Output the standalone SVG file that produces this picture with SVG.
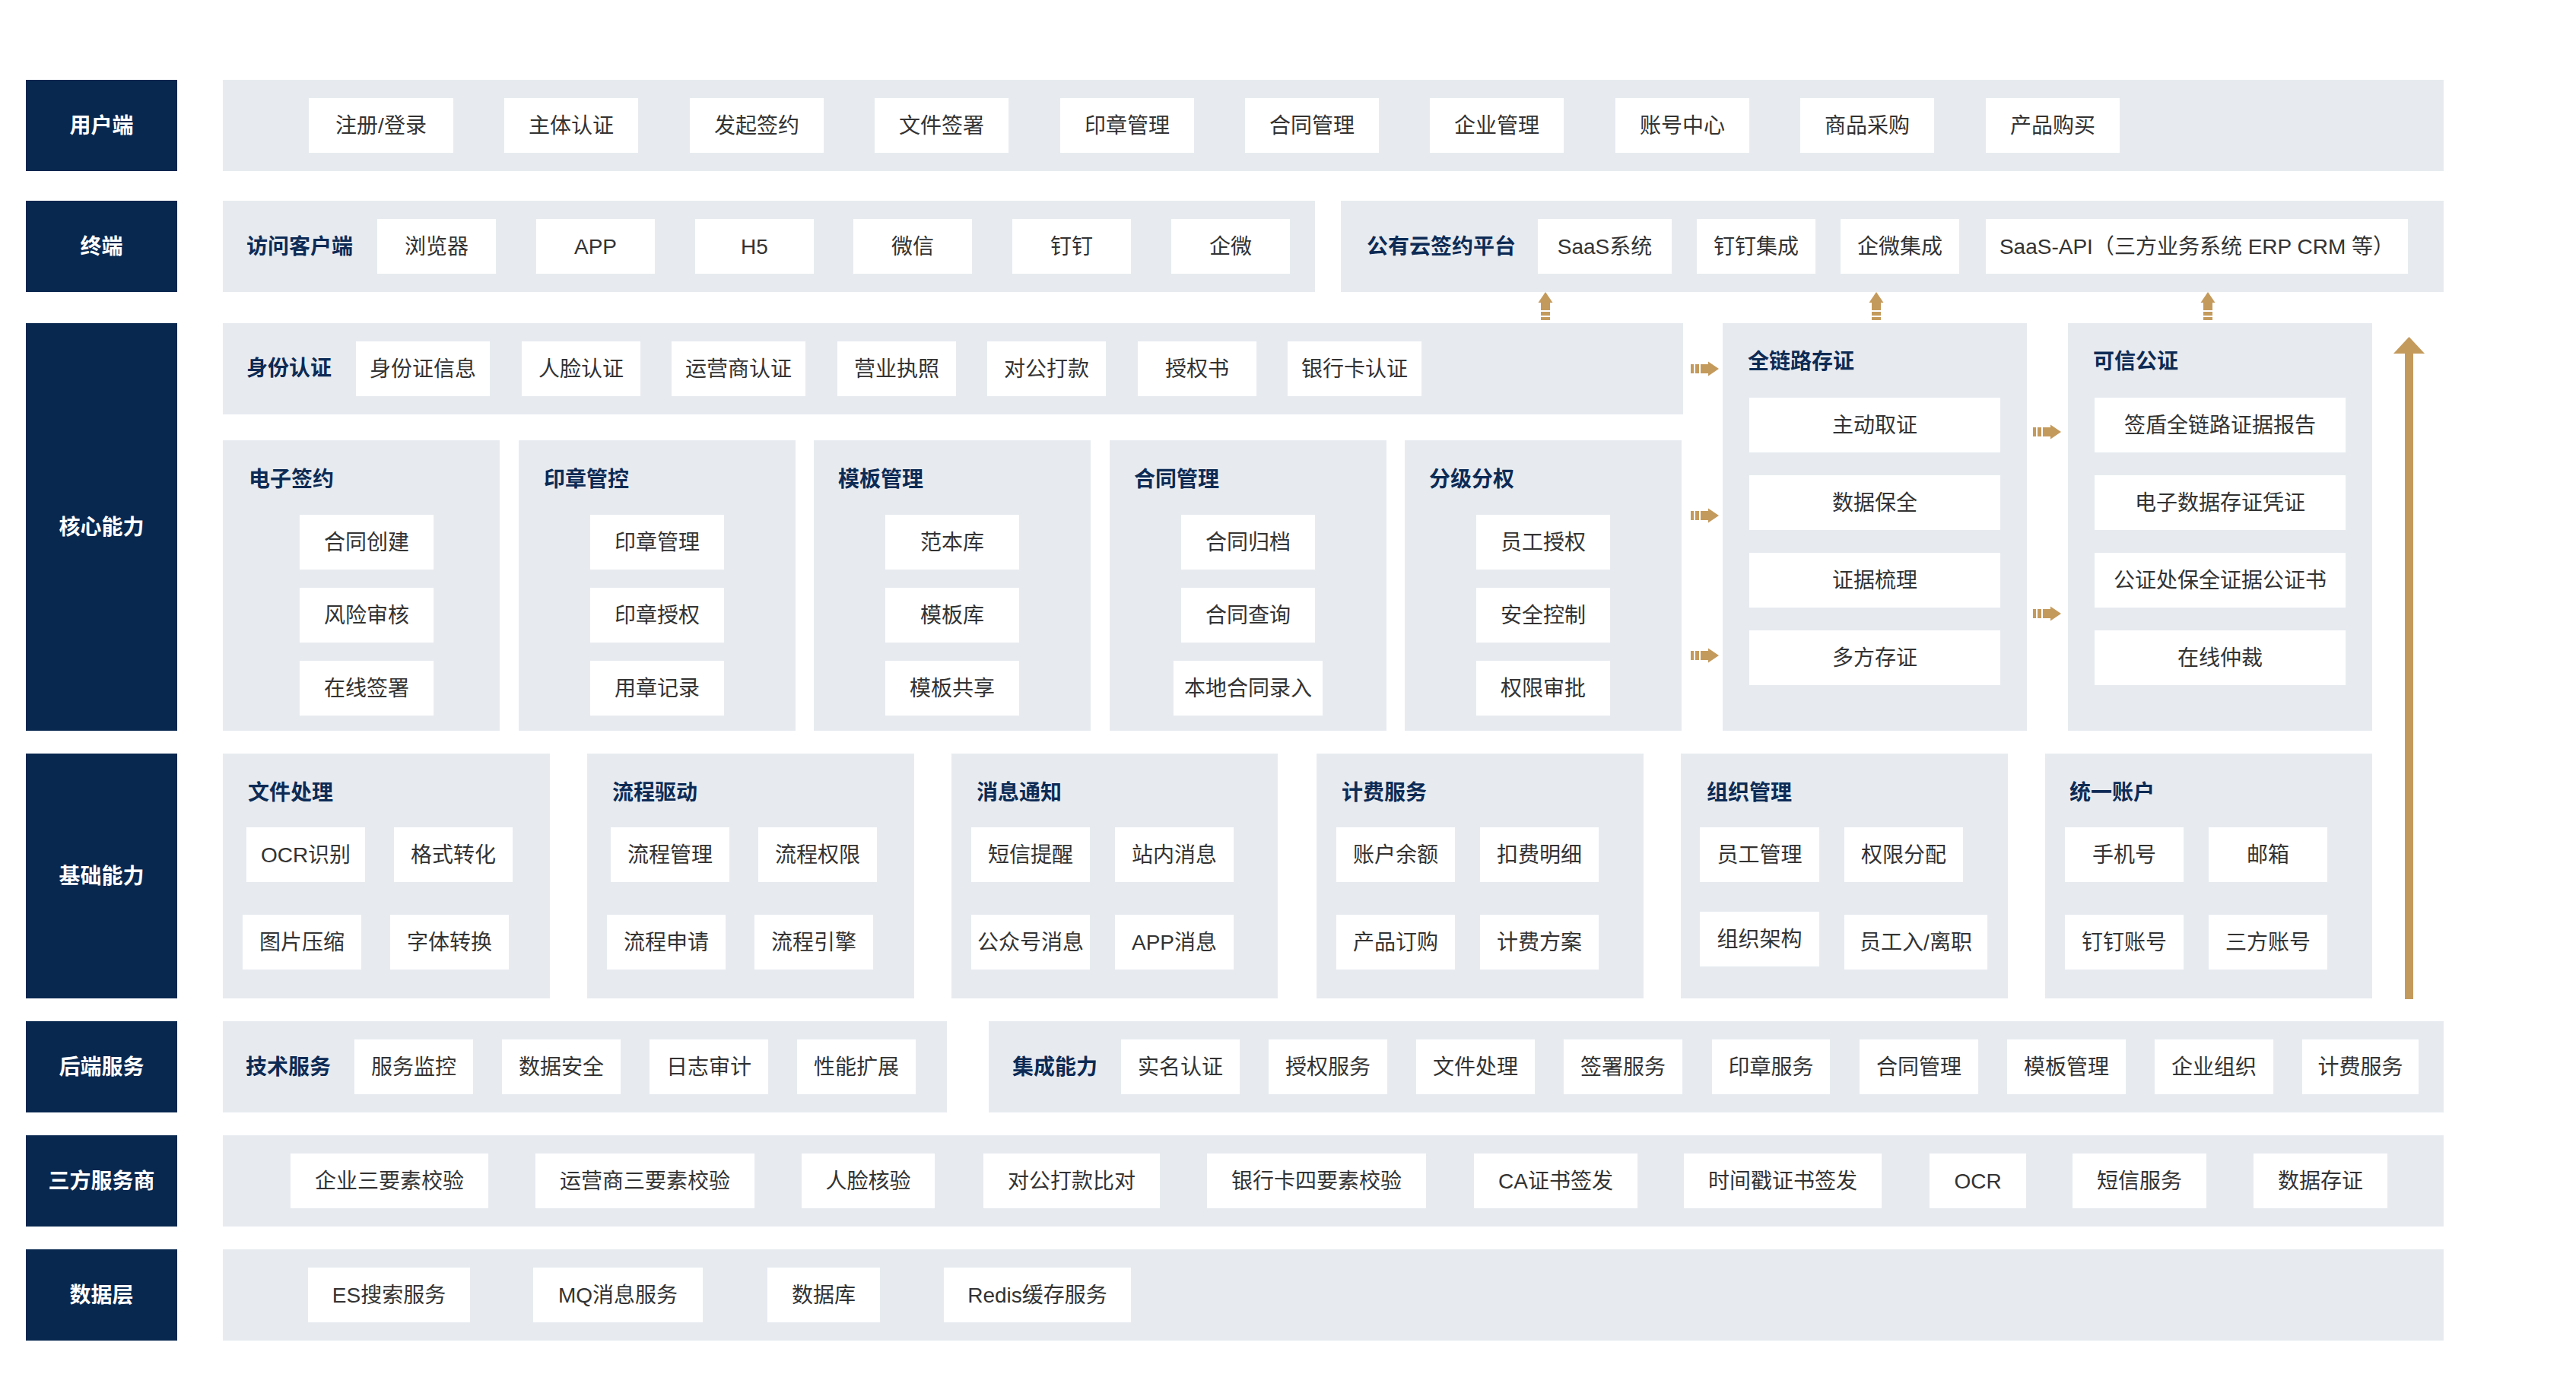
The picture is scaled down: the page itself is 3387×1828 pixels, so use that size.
<svg xmlns="http://www.w3.org/2000/svg" xmlns:xlink="http://www.w3.org/1999/xlink" width="3387" height="1828" viewBox="0 0 3387 1828">
<style>
.lb{fill:#092850}
.lt{fill:#ffffff;font-family:"Liberation Sans","Noto Sans CJK SC",sans-serif;font-size:28px;font-weight:700;text-anchor:middle;dominant-baseline:central}
.pn{fill:#e7ebf0}
.it{fill:#ffffff}
.tx{fill:#333333;font-family:"Liberation Sans","Noto Sans CJK SC",sans-serif;font-size:28px;text-anchor:middle;dominant-baseline:central}
.tt{fill:#0d2b55;font-family:"Liberation Sans","Noto Sans CJK SC",sans-serif;font-size:28px;font-weight:700;dominant-baseline:central}
.gd{fill:#c49a5c}
</style>
<defs>
<g id="ar"><rect x="0" y="-6" width="4" height="12"/><rect x="6" y="-6" width="5" height="12"/><rect x="13" y="-6" width="10" height="12"/><path d="M23,-9.5 L37,0 L23,9.5 Z"/></g>
</defs>
<rect width="3387" height="1828" fill="#ffffff"/>

<!-- Row labels -->
<g id="lbl-user"><rect class="lb" x="34" y="105" width="199" height="120"/><text class="lt" x="133.5" y="165">用户端</text></g>
<g id="lbl-term"><rect class="lb" x="34" y="264" width="199" height="120"/><text class="lt" x="133.5" y="324">终端</text></g>
<g id="lbl-core"><rect class="lb" x="34" y="425" width="199" height="536"/><text class="lt" x="133.5" y="693">核心能力</text></g>
<g id="lbl-base"><rect class="lb" x="34" y="991" width="199" height="322"/><text class="lt" x="133.5" y="1152">基础能力</text></g>
<g id="lbl-back"><rect class="lb" x="34" y="1343" width="199" height="120"/><text class="lt" x="133.5" y="1403">后端服务</text></g>
<g id="lbl-third"><rect class="lb" x="34" y="1493" width="199" height="120"/><text class="lt" x="133.5" y="1553">三方服务商</text></g>
<g id="lbl-data"><rect class="lb" x="34" y="1643" width="199" height="120"/><text class="lt" x="133.5" y="1703">数据层</text></g>

<!-- 用户端 -->
<g id="p-user"><rect class="pn" x="293" y="105" width="2920" height="120"/>
<g id="u1"><rect class="it" x="406" y="129" width="190" height="72"/><text class="tx" x="501" y="165">注册/登录</text></g>
<g id="u2"><rect class="it" x="663" y="129" width="176" height="72"/><text class="tx" x="751" y="165">主体认证</text></g>
<g id="u3"><rect class="it" x="907" y="129" width="176" height="72"/><text class="tx" x="995" y="165">发起签约</text></g>
<g id="u4"><rect class="it" x="1150" y="129" width="176" height="72"/><text class="tx" x="1238" y="165">文件签署</text></g>
<g id="u5"><rect class="it" x="1394" y="129" width="176" height="72"/><text class="tx" x="1482" y="165">印章管理</text></g>
<g id="u6"><rect class="it" x="1637" y="129" width="176" height="72"/><text class="tx" x="1725" y="165">合同管理</text></g>
<g id="u7"><rect class="it" x="1880" y="129" width="176" height="72"/><text class="tx" x="1968" y="165">企业管理</text></g>
<g id="u8"><rect class="it" x="2124" y="129" width="176" height="72"/><text class="tx" x="2212" y="165">账号中心</text></g>
<g id="u9"><rect class="it" x="2367" y="129" width="176" height="72"/><text class="tx" x="2455" y="165">商品采购</text></g>
<g id="u10"><rect class="it" x="2611" y="129" width="176" height="72"/><text class="tx" x="2699" y="165">产品购买</text></g>
</g>

<!-- 终端 -->
<g id="p-client"><rect class="pn" x="293" y="264" width="1436" height="120"/>
<text class="tt" x="324" y="324">访问客户端</text>
<g id="t1"><rect class="it" x="496" y="288" width="156" height="72"/><text class="tx" x="574" y="324">浏览器</text></g>
<g id="t2"><rect class="it" x="705" y="288" width="156" height="72"/><text class="tx" x="783" y="324">APP</text></g>
<g id="t3"><rect class="it" x="914" y="288" width="156" height="72"/><text class="tx" x="992" y="324">H5</text></g>
<g id="t4"><rect class="it" x="1122" y="288" width="156" height="72"/><text class="tx" x="1200" y="324">微信</text></g>
<g id="t5"><rect class="it" x="1331" y="288" width="156" height="72"/><text class="tx" x="1409" y="324">钉钉</text></g>
<g id="t6"><rect class="it" x="1540" y="288" width="156" height="72"/><text class="tx" x="1618" y="324">企微</text></g>
</g>
<g id="p-cloud"><rect class="pn" x="1763" y="264" width="1450" height="120"/>
<text class="tt" x="1797" y="324">公有云签约平台</text>
<g id="c1"><rect class="it" x="2022" y="288" width="176" height="72"/><text class="tx" x="2110" y="324">SaaS系统</text></g>
<g id="c2"><rect class="it" x="2231" y="288" width="156" height="72"/><text class="tx" x="2309" y="324">钉钉集成</text></g>
<g id="c3"><rect class="it" x="2420" y="288" width="156" height="72"/><text class="tx" x="2498" y="324">企微集成</text></g>
<g id="c4"><rect class="it" x="2611" y="288" width="555" height="72"/><text class="tx" x="2888.5" y="324">SaaS-API（三方业务系统 ERP CRM 等）</text></g>
</g>

<!-- 核心能力 -->
<g id="p-id"><rect class="pn" x="293" y="425" width="1920" height="120"/>
<text class="tt" x="324" y="484">身份认证</text>
<g id="i1"><rect class="it" x="468" y="449" width="176" height="72"/><text class="tx" x="556" y="485">身份证信息</text></g>
<g id="i2"><rect class="it" x="686" y="449" width="156" height="72"/><text class="tx" x="764" y="485">人脸认证</text></g>
<g id="i3"><rect class="it" x="883" y="449" width="176" height="72"/><text class="tx" x="971" y="485">运营商认证</text></g>
<g id="i4"><rect class="it" x="1101" y="449" width="156" height="72"/><text class="tx" x="1179" y="485">营业执照</text></g>
<g id="i5"><rect class="it" x="1298" y="449" width="156" height="72"/><text class="tx" x="1376" y="485">对公打款</text></g>
<g id="i6"><rect class="it" x="1496" y="449" width="156" height="72"/><text class="tx" x="1574" y="485">授权书</text></g>
<g id="i7"><rect class="it" x="1693" y="449" width="176" height="72"/><text class="tx" x="1781" y="485">银行卡认证</text></g>
</g>

<g id="p-esign"><rect class="pn" x="293" y="579" width="364" height="382"/>
<text class="tt" x="327" y="630">电子签约</text>
<g id="e1"><rect class="it" x="394" y="677" width="176" height="72"/><text class="tx" x="482" y="713">合同创建</text></g>
<g id="e2"><rect class="it" x="394" y="773" width="176" height="72"/><text class="tx" x="482" y="809">风险审核</text></g>
<g id="e3"><rect class="it" x="394" y="869" width="176" height="72"/><text class="tx" x="482" y="905">在线签署</text></g>
</g>
<g id="p-seal"><rect class="pn" x="682" y="579" width="364" height="382"/>
<text class="tt" x="715" y="630">印章管控</text>
<g id="s1"><rect class="it" x="776" y="677" width="176" height="72"/><text class="tx" x="864" y="713">印章管理</text></g>
<g id="s2"><rect class="it" x="776" y="773" width="176" height="72"/><text class="tx" x="864" y="809">印章授权</text></g>
<g id="s3"><rect class="it" x="776" y="869" width="176" height="72"/><text class="tx" x="864" y="905">用章记录</text></g>
</g>
<g id="p-tpl"><rect class="pn" x="1070" y="579" width="364" height="382"/>
<text class="tt" x="1102" y="630">模板管理</text>
<g id="m1"><rect class="it" x="1164" y="677" width="176" height="72"/><text class="tx" x="1252" y="713">范本库</text></g>
<g id="m2"><rect class="it" x="1164" y="773" width="176" height="72"/><text class="tx" x="1252" y="809">模板库</text></g>
<g id="m3"><rect class="it" x="1164" y="869" width="176" height="72"/><text class="tx" x="1252" y="905">模板共享</text></g>
</g>
<g id="p-contract"><rect class="pn" x="1459" y="579" width="364" height="382"/>
<text class="tt" x="1491" y="630">合同管理</text>
<g id="h1"><rect class="it" x="1553" y="677" width="176" height="72"/><text class="tx" x="1641" y="713">合同归档</text></g>
<g id="h2"><rect class="it" x="1553" y="773" width="176" height="72"/><text class="tx" x="1641" y="809">合同查询</text></g>
<g id="h3"><rect class="it" x="1543" y="869" width="196" height="72"/><text class="tx" x="1641" y="905">本地合同录入</text></g>
</g>
<g id="p-auth"><rect class="pn" x="1847" y="579" width="364" height="382"/>
<text class="tt" x="1879" y="630">分级分权</text>
<g id="a1"><rect class="it" x="1941" y="677" width="176" height="72"/><text class="tx" x="2029" y="713">员工授权</text></g>
<g id="a2"><rect class="it" x="1941" y="773" width="176" height="72"/><text class="tx" x="2029" y="809">安全控制</text></g>
<g id="a3"><rect class="it" x="1941" y="869" width="176" height="72"/><text class="tx" x="2029" y="905">权限审批</text></g>
</g>

<g id="p-evid"><rect class="pn" x="2265" y="425" width="400" height="536"/>
<text class="tt" x="2298" y="475">全链路存证</text>
<g id="v1"><rect class="it" x="2300" y="523" width="330" height="72"/><text class="tx" x="2465" y="559">主动取证</text></g>
<g id="v2"><rect class="it" x="2300" y="625" width="330" height="72"/><text class="tx" x="2465" y="661">数据保全</text></g>
<g id="v3"><rect class="it" x="2300" y="727" width="330" height="72"/><text class="tx" x="2465" y="763">证据梳理</text></g>
<g id="v4"><rect class="it" x="2300" y="829" width="330" height="72"/><text class="tx" x="2465" y="865">多方存证</text></g>
</g>
<g id="p-notary"><rect class="pn" x="2719" y="425" width="400" height="536"/>
<text class="tt" x="2752" y="475">可信公证</text>
<g id="n1"><rect class="it" x="2754" y="523" width="330" height="72"/><text class="tx" x="2919" y="559">签盾全链路证据报告</text></g>
<g id="n2"><rect class="it" x="2754" y="625" width="330" height="72"/><text class="tx" x="2919" y="661">电子数据存证凭证</text></g>
<g id="n3"><rect class="it" x="2754" y="727" width="330" height="72"/><text class="tx" x="2919" y="763">公证处保全证据公证书</text></g>
<g id="n4"><rect class="it" x="2754" y="829" width="330" height="72"/><text class="tx" x="2919" y="865">在线仲裁</text></g>
</g>

<!-- 基础能力 -->
<g id="p-file"><rect class="pn" x="293" y="991" width="430" height="322"/>
<text class="tt" x="326" y="1042">文件处理</text>
<g id="f1"><rect class="it" x="324" y="1088" width="156" height="72"/><text class="tx" x="402" y="1124">OCR识别</text></g>
<g id="f2"><rect class="it" x="518" y="1088" width="156" height="72"/><text class="tx" x="596" y="1124">格式转化</text></g>
<g id="f3"><rect class="it" x="319" y="1203" width="156" height="72"/><text class="tx" x="397" y="1239">图片压缩</text></g>
<g id="f4"><rect class="it" x="513" y="1203" width="156" height="72"/><text class="tx" x="591" y="1239">字体转换</text></g>
</g>
<g id="p-flow"><rect class="pn" x="772" y="991" width="430" height="322"/>
<text class="tt" x="805" y="1042">流程驱动</text>
<g id="w1"><rect class="it" x="803" y="1088" width="156" height="72"/><text class="tx" x="881" y="1124">流程管理</text></g>
<g id="w2"><rect class="it" x="997" y="1088" width="156" height="72"/><text class="tx" x="1075" y="1124">流程权限</text></g>
<g id="w3"><rect class="it" x="798" y="1203" width="156" height="72"/><text class="tx" x="876" y="1239">流程申请</text></g>
<g id="w4"><rect class="it" x="992" y="1203" width="156" height="72"/><text class="tx" x="1070" y="1239">流程引擎</text></g>
</g>
<g id="p-msg"><rect class="pn" x="1251" y="991" width="429" height="322"/>
<text class="tt" x="1284" y="1042">消息通知</text>
<g id="g1"><rect class="it" x="1277" y="1088" width="156" height="72"/><text class="tx" x="1355" y="1124">短信提醒</text></g>
<g id="g2"><rect class="it" x="1466" y="1088" width="156" height="72"/><text class="tx" x="1544" y="1124">站内消息</text></g>
<g id="g3"><rect class="it" x="1277" y="1203" width="156" height="72"/><text class="tx" x="1355" y="1239">公众号消息</text></g>
<g id="g4"><rect class="it" x="1466" y="1203" width="156" height="72"/><text class="tx" x="1544" y="1239">APP消息</text></g>
</g>
<g id="p-bill"><rect class="pn" x="1731" y="991" width="430" height="322"/>
<text class="tt" x="1764" y="1042">计费服务</text>
<g id="b1"><rect class="it" x="1757" y="1088" width="156" height="72"/><text class="tx" x="1835" y="1124">账户余额</text></g>
<g id="b2"><rect class="it" x="1946" y="1088" width="156" height="72"/><text class="tx" x="2024" y="1124">扣费明细</text></g>
<g id="b3"><rect class="it" x="1757" y="1203" width="156" height="72"/><text class="tx" x="1835" y="1239">产品订购</text></g>
<g id="b4"><rect class="it" x="1946" y="1203" width="156" height="72"/><text class="tx" x="2024" y="1239">计费方案</text></g>
</g>
<g id="p-org"><rect class="pn" x="2210" y="991" width="430" height="322"/>
<text class="tt" x="2244" y="1042">组织管理</text>
<g id="o1"><rect class="it" x="2235" y="1088" width="157" height="72"/><text class="tx" x="2313.5" y="1124">员工管理</text></g>
<g id="o2"><rect class="it" x="2425" y="1088" width="156" height="72"/><text class="tx" x="2503" y="1124">权限分配</text></g>
<g id="o3"><rect class="it" x="2235" y="1199" width="157" height="72"/><text class="tx" x="2313.5" y="1235">组织架构</text></g>
<g id="o4"><rect class="it" x="2425" y="1203" width="188" height="72"/><text class="tx" x="2519" y="1239">员工入/离职</text></g>
</g>
<g id="p-acct"><rect class="pn" x="2689" y="991" width="430" height="322"/>
<text class="tt" x="2721" y="1042">统一账户</text>
<g id="k1"><rect class="it" x="2715" y="1088" width="156" height="72"/><text class="tx" x="2793" y="1124">手机号</text></g>
<g id="k2"><rect class="it" x="2904" y="1088" width="156" height="72"/><text class="tx" x="2982" y="1124">邮箱</text></g>
<g id="k3"><rect class="it" x="2715" y="1203" width="156" height="72"/><text class="tx" x="2793" y="1239">钉钉账号</text></g>
<g id="k4"><rect class="it" x="2904" y="1203" width="156" height="72"/><text class="tx" x="2982" y="1239">三方账号</text></g>
</g>

<!-- 后端服务 -->
<g id="p-tech"><rect class="pn" x="293" y="1343" width="952" height="120"/>
<text class="tt" x="323" y="1403">技术服务</text>
<g id="x1"><rect class="it" x="466" y="1367" width="156" height="72"/><text class="tx" x="544" y="1403">服务监控</text></g>
<g id="x2"><rect class="it" x="660" y="1367" width="156" height="72"/><text class="tx" x="738" y="1403">数据安全</text></g>
<g id="x3"><rect class="it" x="854" y="1367" width="156" height="72"/><text class="tx" x="932" y="1403">日志审计</text></g>
<g id="x4"><rect class="it" x="1048" y="1367" width="156" height="72"/><text class="tx" x="1126" y="1403">性能扩展</text></g>
</g>
<g id="p-integ"><rect class="pn" x="1300" y="1343" width="1913" height="120"/>
<text class="tt" x="1331" y="1403">集成能力</text>
<g id="y1"><rect class="it" x="1474" y="1367" width="156" height="72"/><text class="tx" x="1552" y="1403">实名认证</text></g>
<g id="y2"><rect class="it" x="1668" y="1367" width="156" height="72"/><text class="tx" x="1746" y="1403">授权服务</text></g>
<g id="y3"><rect class="it" x="1862" y="1367" width="156" height="72"/><text class="tx" x="1940" y="1403">文件处理</text></g>
<g id="y4"><rect class="it" x="2056" y="1367" width="156" height="72"/><text class="tx" x="2134" y="1403">签署服务</text></g>
<g id="y5"><rect class="it" x="2251" y="1367" width="155" height="72"/><text class="tx" x="2328.5" y="1403">印章服务</text></g>
<g id="y6"><rect class="it" x="2445" y="1367" width="156" height="72"/><text class="tx" x="2523" y="1403">合同管理</text></g>
<g id="y7"><rect class="it" x="2639" y="1367" width="156" height="72"/><text class="tx" x="2717" y="1403">模板管理</text></g>
<g id="y8"><rect class="it" x="2833" y="1367" width="156" height="72"/><text class="tx" x="2911" y="1403">企业组织</text></g>
<g id="y9"><rect class="it" x="3027" y="1367" width="153" height="72"/><text class="tx" x="3103.5" y="1403">计费服务</text></g>
</g>

<!-- 三方服务商 -->
<g id="p-third"><rect class="pn" x="293" y="1493" width="2920" height="120"/>
<g id="r1"><rect class="it" x="382" y="1517" width="260" height="72"/><text class="tx" x="512" y="1553">企业三要素校验</text></g>
<g id="r2"><rect class="it" x="704" y="1517" width="288" height="72"/><text class="tx" x="848" y="1553">运营商三要素校验</text></g>
<g id="r3"><rect class="it" x="1054" y="1517" width="175" height="72"/><text class="tx" x="1141.5" y="1553">人脸核验</text></g>
<g id="r4"><rect class="it" x="1293" y="1517" width="232" height="72"/><text class="tx" x="1409" y="1553">对公打款比对</text></g>
<g id="r5"><rect class="it" x="1587" y="1517" width="288" height="72"/><text class="tx" x="1731" y="1553">银行卡四要素校验</text></g>
<g id="r6"><rect class="it" x="1938" y="1517" width="215" height="72"/><text class="tx" x="2045.5" y="1553">CA证书签发</text></g>
<g id="r7"><rect class="it" x="2214" y="1517" width="260" height="72"/><text class="tx" x="2344" y="1553">时间戳证书签发</text></g>
<g id="r8"><rect class="it" x="2537" y="1517" width="127" height="72"/><text class="tx" x="2600.5" y="1553">OCR</text></g>
<g id="r9"><rect class="it" x="2725" y="1517" width="176" height="72"/><text class="tx" x="2813" y="1553">短信服务</text></g>
<g id="r10"><rect class="it" x="2963" y="1517" width="176" height="72"/><text class="tx" x="3051" y="1553">数据存证</text></g>
</g>

<!-- 数据层 -->
<g id="p-data"><rect class="pn" x="293" y="1643" width="2920" height="120"/>
<g id="d1"><rect class="it" x="405" y="1667" width="213" height="72"/><text class="tx" x="511.5" y="1703">ES搜索服务</text></g>
<g id="d2"><rect class="it" x="701" y="1667" width="223" height="72"/><text class="tx" x="812.5" y="1703">MQ消息服务</text></g>
<g id="d3"><rect class="it" x="1009" y="1667" width="148" height="72"/><text class="tx" x="1083" y="1703">数据库</text></g>
<g id="d4"><rect class="it" x="1241" y="1667" width="246" height="72"/><text class="tx" x="1364" y="1703">Redis缓存服务</text></g>
</g>

<!-- connectors -->
<g id="connectors" class="gd">
<use xlink:href="#ar" href="#ar" transform="translate(2223,485)"/>
<use xlink:href="#ar" href="#ar" transform="translate(2223,678)"/>
<use xlink:href="#ar" href="#ar" transform="translate(2223,862)"/>
<use xlink:href="#ar" href="#ar" transform="translate(2673,568)"/>
<use xlink:href="#ar" href="#ar" transform="translate(2673,807)"/>
<use xlink:href="#ar" href="#ar" transform="translate(2032,421) rotate(-90)"/>
<use xlink:href="#ar" href="#ar" transform="translate(2467,421) rotate(-90)"/>
<use xlink:href="#ar" href="#ar" transform="translate(2903,421) rotate(-90)"/>
<rect x="3162" y="462" width="11" height="852"/>
<path d="M3147,465 L3167.5,443 L3188,465 Z"/>
</g>
</svg>
